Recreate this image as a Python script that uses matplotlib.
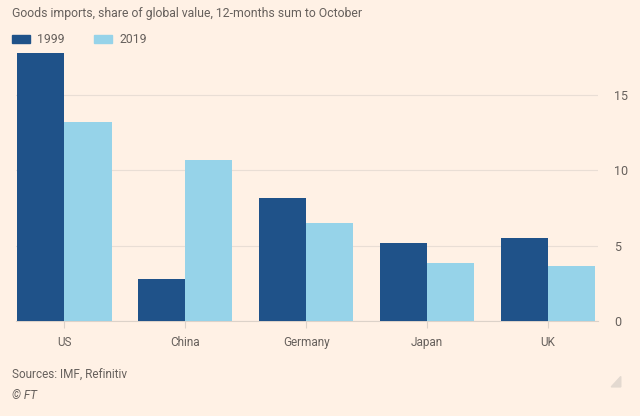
import matplotlib.pyplot as plt
import numpy as np

countries = ['US', 'China', 'Germany', 'Japan', 'UK']
share_1999 = [17.8, 2.8, 8.2, 5.2, 5.55]
share_2019 = [13.2, 10.7, 6.5, 3.85, 3.65]
yticks = [0, 5, 10, 15]

bg = '#FFF1E5'
dark = '#1F5289'
light = '#96D3E9'
txt = '#66605C'

plt.rcParams['font.family'] = ['Roboto', 'DejaVu Sans']

fig = plt.figure(figsize=(6.4, 4.16), dpi=100, facecolor=bg)
ax = fig.add_axes([0.025, 0.228, 0.909, 0.652], facecolor=bg)

x = np.arange(len(countries))
w = 0.39
ax.bar(x - w / 2, share_1999, w, color=dark, zorder=3)
ax.bar(x + w / 2, share_2019, w, color=light, zorder=3)

ax.set_xlim(-0.4, 4.41)
ax.set_ylim(0, 18)
ax.set_yticks(yticks)
ax.yaxis.tick_right()
ax.grid(axis='y', color='#E9DED5', linewidth=0.8, zorder=0)
ax.set_xticks(x)
ax.set_xticklabels(countries)
ax.tick_params(axis='y', length=0, pad=12, labelsize=9, labelcolor=txt)
ax.tick_params(axis='x', length=5, color='#DCD2C9', pad=6, labelsize=8.5, labelcolor=txt)
for s in ['top', 'left', 'right']:
    ax.spines[s].set_visible(False)
ax.spines['bottom'].set_color('#DCD2C9')

fig.text(0.019, 0.968, 'Goods imports, share of global value, 12-months sum to October',
         fontsize=8.8, color=txt, va='center')
fig.patches.append(plt.Rectangle((0.019, 0.897), 0.028, 0.019, color=dark,
                                 transform=fig.transFigure, figure=fig))
fig.text(0.058, 0.906, '1999', fontsize=8.8, color=txt, va='center')
fig.patches.append(plt.Rectangle((0.147, 0.897), 0.028, 0.019, color=light,
                                 transform=fig.transFigure, figure=fig))
fig.text(0.186, 0.906, '2019', fontsize=8.8, color=txt, va='center')

fig.text(0.019, 0.097, 'Sources: IMF, Refinitiv', fontsize=8.5, color=txt, va='center')
fig.text(0.019, 0.050, '© FT', fontsize=8.5, color=txt, va='center', style='italic')
fig.patches.append(plt.Polygon([(0.970, 0.070), (0.970, 0.095), (0.955, 0.070)],
                               closed=True, color='#E3D9D0',
                               transform=fig.transFigure, figure=fig))

fig.savefig('out.png', dpi=100, facecolor=bg)
